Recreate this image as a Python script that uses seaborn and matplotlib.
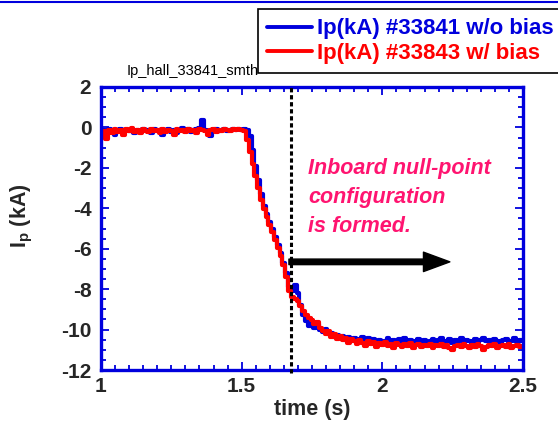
import numpy as np
import pandas as pd
import matplotlib
matplotlib.use("Agg")
import matplotlib.pyplot as plt
import seaborn as sns
from matplotlib.patches import FancyArrowPatch
from matplotlib.lines import Line2D
from matplotlib.ticker import MultipleLocator

# ---------------- data ----------------
time_s = np.round(1.0 + 0.01 * np.arange(151), 2)

ip_33841 = [
    -0.30, -0.15, -0.25, -0.10, -0.20, -0.35, -0.15, -0.10, -0.25, -0.15,
    -0.20, -0.10, -0.30, -0.15, -0.25, -0.10, -0.20, -0.15, -0.30, -0.10,
    -0.20, -0.15, -0.35, -0.20, -0.10, -0.25, -0.15, -0.30, -0.15, -0.05,
    -0.20, -0.10, -0.25, -0.15, -0.10, -0.05, 0.35, -0.15, -0.20, -0.40,
    -0.15, -0.10, -0.20, -0.15, -0.10, -0.20, -0.15, -0.10, -0.15, -0.10,
    -0.15, -0.10, -0.15, -0.40, -1.10, -1.90, -2.60, -3.30, -3.90, -4.30,
    -4.70, -5.00, -5.40, -5.80, -6.20, -6.70, -7.20, -7.90, -8.10, -7.80,
    -8.20, -8.80, -9.30, -9.60, -9.80, -9.60, -9.90, -9.70, -10.00, -10.10,
    -9.95, -10.20, -10.15, -10.35, -10.25, -10.40, -10.30, -10.50, -10.35, -10.55,
    -10.40, -10.45, -10.60, -10.35, -10.50, -10.40, -10.55, -10.45, -10.60, -10.50,
    -10.70, -10.55, -10.40, -10.60, -10.50, -10.65, -10.45, -10.55, -10.40, -10.60,
    -10.50, -10.65, -10.55, -10.45, -10.60, -10.50, -10.70, -10.55, -10.45, -10.60,
    -10.50, -10.40, -10.60, -10.55, -10.45, -10.65, -10.50, -10.55, -10.40, -10.60,
    -10.50, -10.55, -10.65, -10.45, -10.60, -10.50, -10.40, -10.55, -10.50, -10.65,
    -10.45, -10.55, -10.60, -10.50, -10.45, -10.60, -10.55, -10.40, -10.60, -10.50,
    -10.55,
]

ip_33843 = [
    -0.45, -0.20, -0.55, -0.15, -0.30, -0.10, -0.25, -0.15, -0.35, -0.10,
    -0.20, -0.05, -0.25, -0.15, -0.30, -0.10, -0.20, -0.25, -0.10, -0.20,
    -0.15, -0.30, -0.10, -0.25, -0.15, -0.20, -0.35, -0.10, -0.20, -0.15,
    -0.25, -0.10, -0.20, -0.15, -0.30, -0.10, -0.15, -0.20, -0.35, -0.15,
    -0.10, -0.25, -0.15, -0.20, -0.10, -0.15, -0.20, -0.10, -0.15, -0.10,
    -0.15, -0.20, -0.60, -1.20, -1.80, -2.40, -3.00, -3.60, -4.05, -4.45,
    -4.85, -5.15, -5.55, -5.95, -6.35, -6.80, -7.40, -8.10, -8.40, -8.50,
    -8.60, -8.85, -9.10, -9.30, -9.45, -9.55, -9.70, -9.65, -9.90, -10.05,
    -10.20, -10.05, -10.35, -10.20, -10.45, -10.30, -10.50, -10.40, -10.65, -10.45,
    -10.55, -10.70, -10.50, -10.65, -10.80, -10.55, -10.70, -10.60, -10.85, -10.65,
    -10.75, -10.60, -10.80, -10.70, -10.90, -10.65, -10.75, -10.85, -10.70, -10.80,
    -10.65, -10.90, -10.75, -10.70, -10.85, -10.75, -10.80, -10.70, -10.90, -10.75,
    -10.80, -10.70, -10.85, -10.75, -10.90, -11.00, -10.80, -10.75, -10.85, -10.70,
    -10.80, -10.90, -10.75, -10.85, -10.70, -10.80, -11.00, -10.85, -10.75, -10.80,
    -10.70, -10.90, -10.80, -10.75, -10.85, -10.70, -10.90, -10.80, -10.75, -10.85,
    -10.80,
]

label_33841 = "Ip(kA) #33841 w/o bias"
label_33843 = "Ip(kA) #33843 w/ bias"
x_ticks = [1, 1.5, 2, 2.5]
x_tick_labels = ["1", "1.5", "2", "2.5"]
y_ticks = [2, 0, -2, -4, -6, -8, -10, -12]
y_tick_labels = ["2", "0", "-2", "-4", "-6", "-8", "-10", "-12"]
t_marker = 1.675
arrow_end = 2.24
arrow_y = -6.65

# ---------------- style ----------------
sns.set_style("ticks")
plt.rcParams["font.family"] = ["Liberation Sans", "DejaVu Sans"]
plt.rcParams["axes.unicode_minus"] = False
plt.rcParams["mathtext.default"] = "regular"

BLUE = "#0000DD"
RED = "#FF0000"
PINK = "#FF1470"

W, H = 558, 421
fig = plt.figure(figsize=(W / 100, H / 100), dpi=100)
ax = fig.add_axes([101 / W, 1 - 370 / H, (523 - 101) / W, (370 - 87) / H])

df_b = pd.DataFrame({"time": time_s, "Ip": ip_33841})
df_r = pd.DataFrame({"time": time_s, "Ip": ip_33843})
sns.lineplot(data=df_b, x="time", y="Ip", ax=ax, color=BLUE, lw=3.0,
             estimator=None, sort=False, drawstyle="steps-mid")
sns.lineplot(data=df_r, x="time", y="Ip", ax=ax, color=RED, lw=3.0,
             estimator=None, sort=False, drawstyle="steps-mid")

ax.set_xlim(1, 2.5)
ax.set_ylim(-12, 2)
ax.set_xticks(x_ticks)
ax.set_xticklabels(x_tick_labels)
ax.set_yticks(y_ticks)
ax.set_yticklabels(y_tick_labels)
ax.xaxis.set_minor_locator(MultipleLocator(0.05))
ax.yaxis.set_minor_locator(MultipleLocator(0.5))
ax.tick_params(which="both", direction="in", top=True, right=True,
               color=BLUE, width=1.3)
ax.tick_params(which="major", length=6)
ax.tick_params(which="minor", length=3.5)
ax.tick_params(axis="x", which="major", pad=5)
ax.tick_params(axis="y", which="major", pad=7)
for lab in ax.get_xticklabels() + ax.get_yticklabels():
    lab.set_fontsize(15)
    lab.set_fontweight("bold")
for sp in ax.spines.values():
    sp.set_color(BLUE)
    sp.set_linewidth(2.4)
    sp.set_zorder(4)

ax.set_xlabel("")
ax.set_ylabel("")
fig.text((101 + 523) / 2 / W, 1 - 409 / H, "time (s)", fontsize=15.5,
         fontweight="bold", ha="center", va="center")
fig.text(22 / W, 1 - 216 / H, "I$_{p}$ (kA)", fontsize=15.5, fontweight="bold",
         rotation=90, ha="center", va="center")

# dashed marker line
ax.axvline(t_marker, ymin=-0.012, ymax=1.0, color="black", lw=2.2,
           linestyle=(0, (1.4, 0.9)), clip_on=False, zorder=5)

# arrow
arr = FancyArrowPatch((t_marker - 0.007, arrow_y), (arrow_end, arrow_y),
                      arrowstyle="simple,head_length=19,head_width=14,tail_width=4",
                      mutation_scale=1, color="black", shrinkA=0, shrinkB=0,
                      zorder=6)
ax.add_patch(arr)

ax.text(1.736, -1.5, "Inboard null-point\nconfiguration\nis formed.",
        color=PINK, fontsize=15.5, fontweight="bold", style="italic",
        ha="left", va="top", linespacing=1.5)

# small title
fig.text(127 / W, 1 - 71 / H, "Ip_hall_33841_smth", fontsize=10.5,
         ha="left", va="center", color="black")

# legend
handles = [Line2D([], [], color=BLUE, lw=2.8), Line2D([], [], color=RED, lw=2.8)]
leg = fig.legend(handles, [label_33841, label_33843], loc="upper left",
                 bbox_to_anchor=(258 / W, 1 - 9 / H), bbox_transform=fig.transFigure,
                 prop={"size": 16, "weight": "bold"}, frameon=True, fancybox=False,
                 edgecolor="black", framealpha=1, borderaxespad=0,
                 handlelength=2.0, handletextpad=0.25, borderpad=0.42,
                 labelspacing=0.16)
leg.get_frame().set_linewidth(1.2)
for txt, c in zip(leg.get_texts(), [BLUE, RED]):
    txt.set_color(c)

# thin blue line at top edge of the picture
fig.add_artist(Line2D([0, 1], [1 - 1.5 / H, 1 - 1.5 / H], transform=fig.transFigure,
                      color=BLUE, lw=1.5))

fig.savefig("out.png", dpi=100)
